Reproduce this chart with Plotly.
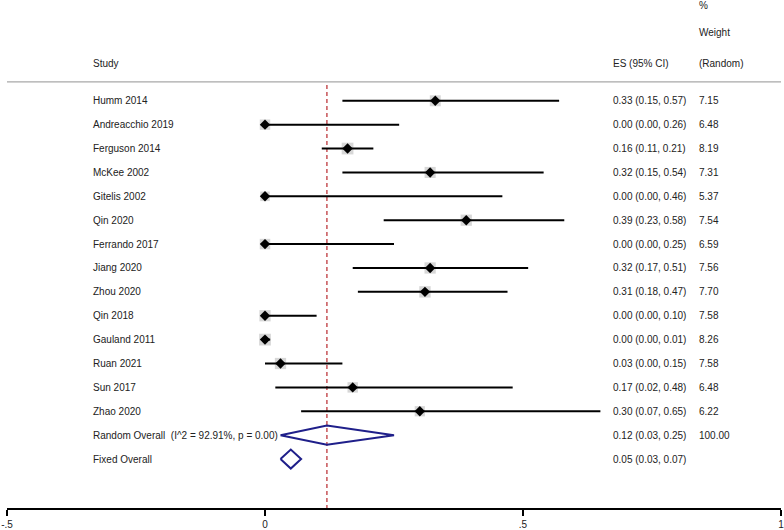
import plotly.graph_objects as go

studies = ["Humm 2014", "Andreacchio 2019", "Ferguson 2014", "McKee 2002", "Gitelis 2002",
           "Qin 2020", "Ferrando 2017", "Jiang 2020", "Zhou 2020", "Qin 2018",
           "Gauland 2011", "Ruan 2021", "Sun 2017", "Zhao 2020"]
es = [0.33, 0.00, 0.16, 0.32, 0.00, 0.39, 0.00, 0.32, 0.31, 0.00, 0.00, 0.03, 0.17, 0.30]
lo = [0.15, 0.00, 0.11, 0.15, 0.00, 0.23, 0.00, 0.17, 0.18, 0.00, 0.00, 0.00, 0.02, 0.07]
hi = [0.57, 0.26, 0.21, 0.54, 0.46, 0.58, 0.25, 0.51, 0.47, 0.10, 0.01, 0.15, 0.48, 0.65]
weights = [7.15, 6.48, 8.19, 7.31, 5.37, 7.54, 6.59, 7.56, 7.70, 7.58, 8.26, 7.58, 6.48, 6.22]

overall_labels = ["Random Overall  (I^2 = 92.91%, p = 0.00)", "Fixed Overall"]
overall_es = [0.12, 0.05]
overall_lo = [0.03, 0.03]
overall_hi = [0.25, 0.07]
overall_weight = ["100.00", ""]

tick_vals = [-0.5, 0, 0.5, 1]
tick_text = ["-.5", "0", ".5", "1"]

n = len(studies)
ys = [-i for i in range(n)]
oys = [-(n + i) for i in range(len(overall_labels))]

FONT = "Liberation Sans, Arial, sans-serif"
NAVY = "#1f1f8a"
RED = "#b8282d"

fig = go.Figure()

# grey weight boxes
fig.add_trace(go.Scatter(x=es, y=ys, mode="markers",
                         marker=dict(symbol="square", color="#c6c6c6",
                                     size=[4.1 * w ** 0.5 for w in weights], line=dict(width=0)),
                         showlegend=False, hoverinfo="skip"))

# CI lines
cx, cy = [], []
for y, a, b in zip(ys, lo, hi):
    cx += [a, b, None]
    cy += [y, y, None]
fig.add_trace(go.Scatter(x=cx, y=cy, mode="lines", line=dict(color="black", width=2),
                         hoverinfo="skip", showlegend=False))

# point estimates
fig.add_trace(go.Scatter(x=es, y=ys, mode="markers",
                         marker=dict(symbol="diamond", color="black", size=8, line=dict(width=0)),
                         showlegend=False))

# overall diamonds
h = 0.4
dx, dy = [], []
for y, e, a, b in zip(oys, overall_es, overall_lo, overall_hi):
    dx += [a, e, b, e, a, None]
    dy += [y, y + h, y, y - h, y, None]
fig.add_trace(go.Scatter(x=dx, y=dy, mode="lines", line=dict(color=NAVY, width=2),
                         hoverinfo="skip", showlegend=False))

y_bottom = -17.05
y_top = 4.22

# dashed overall line
fig.add_shape(type="line", x0=overall_es[0], x1=overall_es[0], y0=0.66, y1=y_bottom,
              xref="x", yref="y", line=dict(color=RED, width=1.2, dash="4px,3px"), layer="below")
# header separator
fig.add_shape(type="line", x0=-0.5, x1=1.0, y0=0.794, y1=0.794, xref="x", yref="y",
              line=dict(color="#a8a8a8", width=1.2))

x_study = -0.337
x_es = 0.6705
x_w = 0.837

ann = []
def txt(x, y, s):
    ann.append(dict(x=x, y=y, text=s, xref="x", yref="y", xanchor="left", yanchor="middle",
                    showarrow=False, font=dict(family=FONT, size=10, color="#222")))

for s, y, e, a, b, w in zip(studies, ys, es, lo, hi, weights):
    txt(x_study, y, s)
    txt(x_es, y, f"{e:.2f} ({a:.2f}, {b:.2f})")
    txt(x_w, y, f"{w:.2f}")
for s, y, e, a, b, w in zip(overall_labels, oys, overall_es, overall_lo, overall_hi, overall_weight):
    txt(x_study, y, s.replace("  ", "&nbsp;&nbsp;"))
    txt(x_es, y, f"{e:.2f} ({a:.2f}, {b:.2f})")
    if w:
        txt(x_w, y, w)

txt(x_study, 1.55, "Study")
txt(x_es, 1.55, "ES (95% CI)")
txt(x_w, 1.55, "(Random)")
txt(x_w, 2.88, "Weight")
txt(x_w, 4.01, "%")

fig.update_layout(
    width=784, height=530,
    margin=dict(l=7, r=3, t=0, b=22),
    paper_bgcolor="white", plot_bgcolor="white",
    annotations=ann,
    xaxis=dict(range=[-0.5, 1.0], tickvals=tick_vals, ticktext=tick_text,
               showgrid=False, zeroline=False, showline=True, linecolor="black", linewidth=1.5,
               ticks="outside", ticklen=6, tickwidth=1.5, tickcolor="black",
               ticklabeloverflow="allow",
               tickfont=dict(family=FONT, size=10, color="#222")),
    yaxis=dict(range=[y_bottom, y_top], visible=False, showgrid=False, zeroline=False),
    showlegend=False,
)

fig.write_html("out.html", config={"displayModeBar": False},
               post_script="document.body.style.margin='0';")
